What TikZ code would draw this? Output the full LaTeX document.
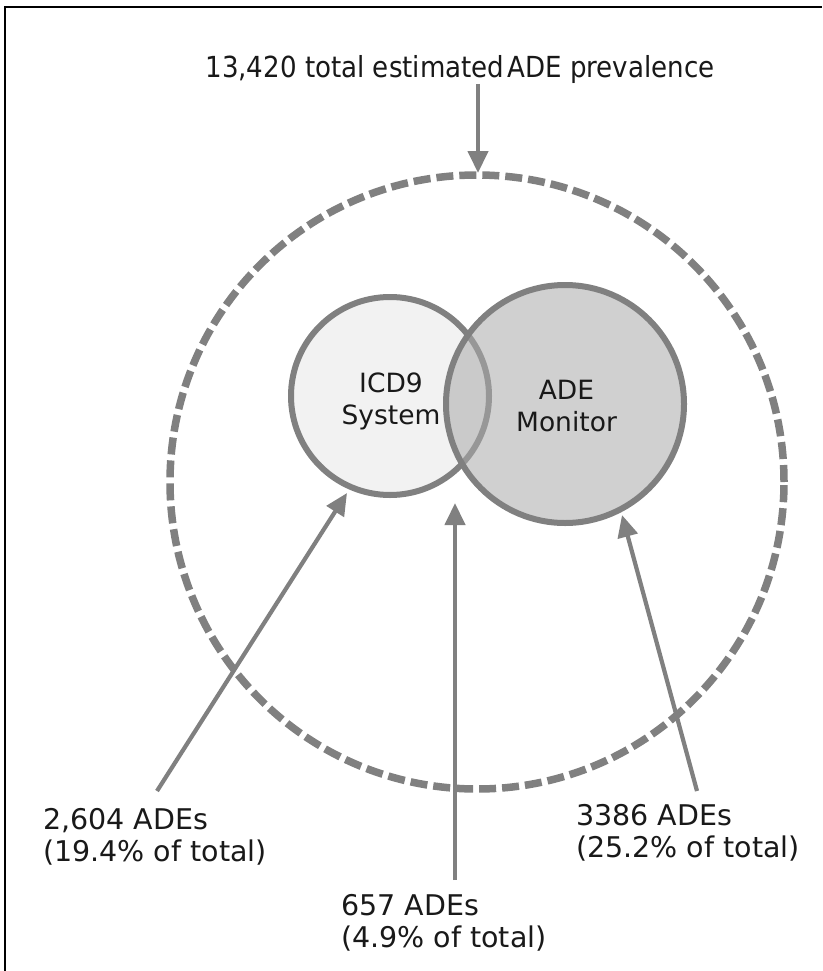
\documentclass[tikz,border=0pt]{standalone}
\usepackage{fontspec}
\setmainfont{DejaVu Sans}
\newfontfamily\titlefont[FakeStretch=0.9]{DejaVu Sans}
\usetikzlibrary{arrows.meta}
\definecolor{ln}{RGB}{128,128,128}
\definecolor{txt}{RGB}{25,25,25}
\definecolor{icdfill}{RGB}{242,242,242}
\definecolor{adefill}{RGB}{170,170,170}
\begin{document}
\begin{tikzpicture}[x=1pt,y=-1pt,
  arr/.style={-{Triangle[length=22pt,width=20pt]}, line width=4.2pt, draw=ln},
  lbl/.style={font=\fontsize{28.5}{32}\selectfont, text=txt, align=left, anchor=north west, inner sep=0pt},
  venn/.style={font=\fontsize{26.5}{32}\selectfont, text=txt, align=center, anchor=north, inner sep=0pt},
  ring/.style={circle, draw=ln, line width=6pt, inner sep=0pt, outer sep=0pt}]
\useasboundingbox (0,0) rectangle (822,971);
\fill[white] (0,0) rectangle (822,971);
\draw[line width=2pt] (5,971) -- (5,7) -- (822,7);
% outer dashed circle
\node[circle, draw=ln, line width=7.5pt, dash pattern=on 17pt off 6pt, minimum size=614pt, inner sep=0pt] (total) at (477,482) {};
% inner circles
\node[ring, fill=icdfill, minimum size=198pt] (icd) at (390,396) {};
\node[ring, fill=adefill, fill opacity=0.55, minimum size=238pt] (ade) at (565,404) {};
\node[venn] (icdt) at (391,372.5) {ICD9\\System};
\node[venn] (adet) at (566.5,380) {ADE\\Monitor};
% title
\node[font=\titlefont\fontsize{29}{32}\selectfont, text=txt, anchor=base, inner sep=0pt] (title) at (460,78) {13,420 total estimated\hspace{0.1em}ADE prevalence};
% labels
\node[lbl] (l1) at (43,808) {2,604 ADEs\\(19.4\% of total)};
\node[lbl] (l2) at (341,894) {657 ADEs\\(4.9\% of total)};
\node[lbl] (l3) at (576,804) {3386 ADEs\\(25.2\% of total)};
% arrow ends
\coordinate (s0) at (478,84);
\coordinate (e0) at (478,173);
\coordinate (s1) at (157,791);
\coordinate (e1) at (347,493);
\coordinate (s2) at (455,880);
\coordinate (e2) at (455,503);
\coordinate (s3) at (697,791);
\coordinate (e3) at (622,515);
\draw[arr] (s0) -- (e0);
\draw[arr] (s1) -- (e1);
\draw[arr] (s2) -- (e2);
\draw[arr] (s3) -- (e3);
\end{tikzpicture}
\end{document}
